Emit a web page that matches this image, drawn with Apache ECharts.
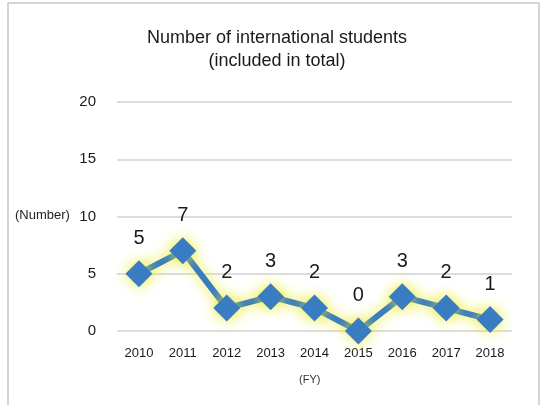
<!DOCTYPE html>
<html>
<head>
<meta charset="utf-8">
<script src="https://cdn.jsdelivr.net/npm/echarts@6/dist/echarts.min.js"></script>
<style>
html, body { margin: 0; padding: 0; background: #fff; }
#chart { width: 544px; height: 405px; }
</style>
</head>
<body>
<div id="chart"></div>
<script>
// 年度
const years = ['2010', '2011', '2012', '2013', '2014', '2015', '2016', '2017', '2018']
// 留学生人数
const students = [5, 7, 2, 3, 2, 0, 3, 2, 1]
const yTicks = [0, 5, 10, 15, 20]

const font = 'Liberation Sans, Arial, sans-serif'
var myChart = echarts.init(document.getElementById('chart'))
let option = {
    backgroundColor: '#fff',
    animation: false,
    title: {
        text: 'Number of international students\n(included in total)',
        left: 272,
        top: 22,
        textAlign: 'center',
        textStyle: {
            fontFamily: font,
            fontSize: 18,
            fontWeight: 'normal',
            color: '#1a1a1a',
            lineHeight: 23
        }
    },
    graphic: [
        {
            type: 'rect',
            shape: { x: 8, y: 3, width: 531, height: 420 },
            style: { fill: 'none', stroke: '#c8c8c8', lineWidth: 1.5 }
        },
        {
            type: 'text',
            left: 15,
            top: 209,
            style: { text: '(Number)', fontFamily: font, fontSize: 13, fill: '#222' }
        },
        {
            type: 'text',
            left: 299,
            top: 374,
            style: { text: '(FY)', fontFamily: font, fontSize: 11, fill: '#333' }
        }
    ],
    grid: {
        left: 117,
        right: 32,
        top: 102,
        bottom: 74
    },
    xAxis: {
        type: 'category',
        data: years,
        boundaryGap: true,
        axisLine: { show: false },
        axisTick: { show: false },
        axisLabel: { fontFamily: font, fontSize: 13, color: '#1a1a1a', margin: 16 }
    },
    yAxis: {
        type: 'value',
        min: yTicks[0],
        max: yTicks[yTicks.length - 1],
        interval: 5,
        axisLine: { show: false },
        axisTick: { show: false },
        axisLabel: { fontFamily: font, fontSize: 15, color: '#1a1a1a', margin: 21 },
        splitLine: { lineStyle: { color: '#d0d0d0', width: 1.5 } }
    },
    series: [
        {
            type: 'line',
            data: students,
            symbol: 'diamond',
            symbolSize: [27, 27],
            lineStyle: {
                color: '#3a7cc1',
                width: 6,
                shadowColor: 'rgba(235, 235, 40, 0.95)',
                shadowBlur: 14
            },
            itemStyle: {
                color: '#3a7cc1',
                shadowColor: 'rgba(235, 235, 40, 0.95)',
                shadowBlur: 14
            },
            label: {
                show: true,
                position: 'top',
                distance: 12,
                fontFamily: font,
                fontSize: 20,
                color: '#1a1a1a'
            }
        }
    ]
}
myChart.setOption(option)
</script>
</body>
</html>
